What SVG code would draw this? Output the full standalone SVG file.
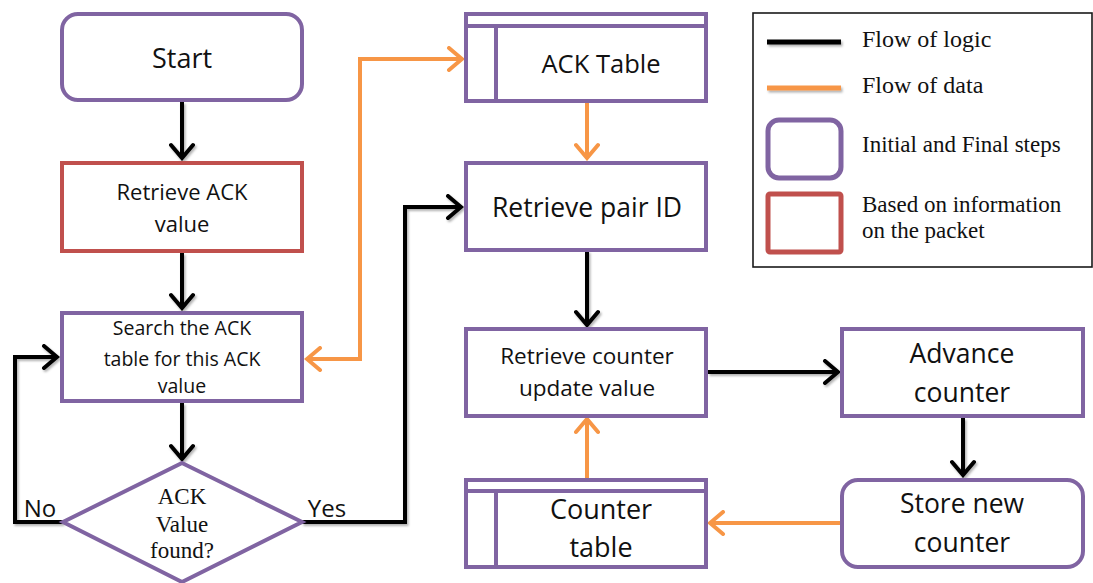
<svg xmlns="http://www.w3.org/2000/svg" width="1093" height="583" viewBox="0 0 1093 583">
  <style>
    .box { fill: #fff; stroke: #8064A2; stroke-width: 4; }
    .info { fill: #fff; stroke: #C0504D; stroke-width: 4; }
    .inner { fill: none; stroke: #8064A2; stroke-width: 4; }
    .logic { fill: none; stroke: #000; stroke-width: 4; stroke-linejoin: miter; filter: url(#shade); }
    .data { fill: none; stroke: #F79646; stroke-width: 4; stroke-linejoin: miter; }
    .sans { font-family: "Open Sans", "Liberation Sans", sans-serif; fill: #111; text-anchor: middle; }
    .serif { font-family: "Liberation Serif", "Times New Roman", serif; fill: #111; }
  </style>
  <defs>
    <!-- soft drop shadow; user-space region so straight lines with a zero-size box still render -->
    <filter id="shade" filterUnits="userSpaceOnUse" x="0" y="0" width="1093" height="583">
      <feDropShadow dx="1.5" dy="2" stdDeviation="1.2" flood-color="#000" flood-opacity="0.3"/>
    </filter>
    <marker id="tip-logic" markerUnits="userSpaceOnUse" viewBox="0 0 20 26" markerWidth="20" markerHeight="26" refX="17" refY="13" orient="auto">
      <path d="M4,2 L17,13 L4,24" fill="none" stroke="#000" stroke-width="4" stroke-linecap="round" stroke-linejoin="miter"/>
    </marker>
    <marker id="tip-data" markerUnits="userSpaceOnUse" viewBox="0 0 20 26" markerWidth="20" markerHeight="26" refX="17" refY="13" orient="auto-start-reverse">
      <path d="M4,2 L17,13 L4,24" fill="none" stroke="#F79646" stroke-width="4" stroke-linecap="round" stroke-linejoin="miter"/>
    </marker>
  </defs>

  <rect width="1093" height="583" fill="#fff"/>

  <!-- connectors -->
  <g id="connectors">
    <path class="logic" d="M182,102 V158" marker-end="url(#tip-logic)"/>
    <path class="logic" d="M182,253 V308" marker-end="url(#tip-logic)"/>
    <path class="logic" d="M182,403 V459" marker-end="url(#tip-logic)"/>
    <path class="logic" d="M63,522 H15 V357 H57" marker-end="url(#tip-logic)"/>
    <path class="logic" d="M302,522 H405 V207 H461" marker-end="url(#tip-logic)"/>
    <path class="logic" d="M587,251 V325" marker-end="url(#tip-logic)"/>
    <path class="logic" d="M708,372 H838" marker-end="url(#tip-logic)"/>
    <path class="logic" d="M963,418 V475" marker-end="url(#tip-logic)"/>
    <path class="data" d="M307,359 H360 V59 H462" marker-start="url(#tip-data)" marker-end="url(#tip-data)"/>
    <path class="data" d="M587,103 V158" marker-end="url(#tip-data)"/>
    <path class="data" d="M840,523 H710" marker-end="url(#tip-data)"/>
    <path class="data" d="M587,478 V419" marker-end="url(#tip-data)"/>
  </g>

  <!-- left column -->
  <g id="start">
    <rect class="box" x="62" y="14" width="240" height="86" rx="16"/>
    <text class="sans" x="182" y="68" font-size="27">Start</text>
  </g>
  <g id="retrieve-ack">
    <rect class="info" x="62" y="163" width="240" height="88"/>
    <text class="sans" x="182" y="200" font-size="22">Retrieve ACK</text>
    <text class="sans" x="182" y="232" font-size="22">value</text>
  </g>
  <g id="search-table">
    <rect class="box" x="62" y="313" width="240" height="88"/>
    <text class="sans" x="182" y="335" font-size="19.5">Search the ACK</text>
    <text class="sans" x="182" y="366" font-size="19.5">table for this ACK</text>
    <text class="sans" x="182" y="393" font-size="19.5">value</text>
  </g>
  <g id="ack-found">
    <polygon class="box" points="182,463 302,522 182,582 63,522"/>
    <text class="serif" x="182" y="504" font-size="23" text-anchor="middle">ACK</text>
    <text class="serif" x="182" y="532" font-size="23" text-anchor="middle">Value</text>
    <text class="serif" x="182" y="558" font-size="23" text-anchor="middle">found?</text>
  </g>
  <g id="label-no">
    <text class="sans" x="40" y="517" font-size="24">No</text>
  </g>
  <g id="label-yes">
    <text class="sans" x="327" y="517" font-size="24">Yes</text>
  </g>

  <!-- middle column -->
  <g id="ack-table">
    <rect class="box" x="466" y="14" width="240" height="87"/>
    <path class="inner" d="M466,26 H706 M496,26 V101"/>
    <text class="sans" x="601" y="73" font-size="25.5">ACK Table</text>
  </g>
  <g id="retrieve-pair">
    <rect class="box" x="466" y="163" width="240" height="87"/>
    <text class="sans" x="587" y="217" font-size="26.5">Retrieve pair ID</text>
  </g>
  <g id="retrieve-counter">
    <rect class="box" x="466" y="329" width="240" height="87"/>
    <text class="sans" x="587" y="364" font-size="22.5">Retrieve counter</text>
    <text class="sans" x="587" y="396" font-size="22.5">update value</text>
  </g>
  <g id="counter-table">
    <rect class="box" x="466" y="480" width="240" height="87"/>
    <path class="inner" d="M466,491 H706 M496,491 V567"/>
    <text class="sans" x="601" y="519" font-size="27">Counter</text>
    <text class="sans" x="601" y="557" font-size="27">table</text>
  </g>

  <!-- right column -->
  <g id="advance-counter">
    <rect class="box" x="842" y="329" width="241" height="87"/>
    <text class="sans" x="962" y="363" font-size="26.5">Advance</text>
    <text class="sans" x="962" y="402" font-size="26.5">counter</text>
  </g>
  <g id="store-counter">
    <rect class="box" x="842" y="480" width="241" height="87" rx="16"/>
    <text class="sans" x="962" y="513" font-size="26.5">Store new</text>
    <text class="sans" x="962" y="552" font-size="26.5">counter</text>
  </g>

  <!-- legend -->
  <g id="legend">
    <rect x="753" y="13" width="339" height="254" fill="#fff" stroke="#1a1a1a" stroke-width="1.6"/>
    <path d="M767,42 H841" stroke="#000" stroke-width="5" filter="url(#shade)"/>
    <path d="M767,88 H841" stroke="#F79646" stroke-width="5" filter="url(#shade)"/>
    <rect x="768" y="120" width="73" height="58" rx="11" fill="#fff" stroke="#8064A2" stroke-width="5"/>
    <rect x="768" y="194" width="73" height="58" rx="2" fill="#fff" stroke="#C0504D" stroke-width="5"/>
    <text class="serif" x="862" y="47" font-size="24">Flow of logic</text>
    <text class="serif" x="862" y="93" font-size="24">Flow of data</text>
    <text class="serif" x="862" y="152" font-size="23">Initial and Final steps</text>
    <text class="serif" x="862" y="212" font-size="23">Based on information</text>
    <text class="serif" x="862" y="238" font-size="23">on the packet</text>
  </g>
</svg>
